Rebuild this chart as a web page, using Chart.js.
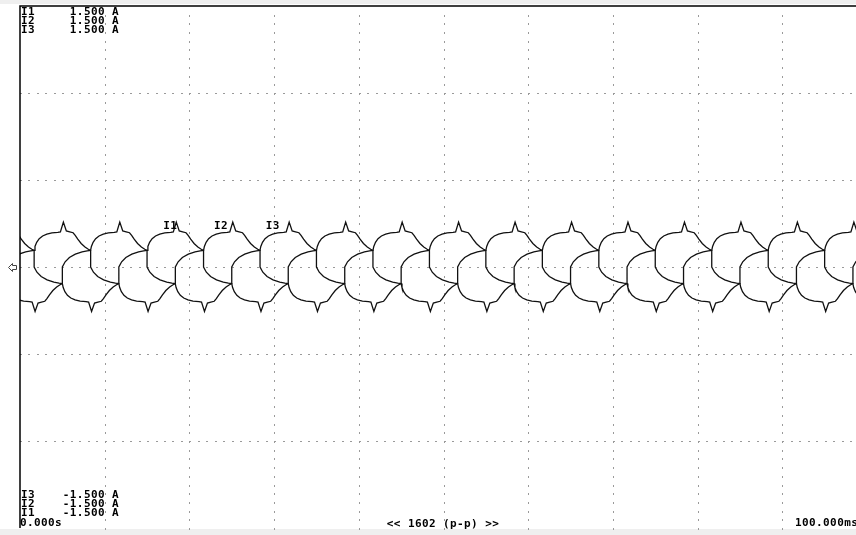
<!DOCTYPE html>
<html>
<head>
<meta charset="utf-8">
<script src="https://cdn.jsdelivr.net/npm/chart.js@4.4.1/dist/chart.umd.min.js"></script>
<style>
  html, body { margin: 0; padding: 0; background: #fff; overflow: hidden; }
  #wrap { width: 880px; height: 535px; }
</style>
</head>
<body>
<div id="wrap"><canvas id="scope" width="880" height="535"></canvas></div>
<script>
// Valori (osciloscop, 3 curenti de faza)
const channelNames = ['I1', 'I2', 'I3'];
const firstRiseMs = [-5.0, 1.67, 8.33];   // trecerea prin +Id/2 pe frontul crescator
const periodMs = 20;
const cycleMs  = [-3.33, -3.0, -2.5, -1.8, -1.0, -0.4, 0.0, 0.1, 0.3, 0.6, 1.0, 1.5, 2.1, 2.8, 3.1, 3.45, 3.8, 4.2, 4.6, 4.85, 5.15, 5.55, 6.0, 6.4, 6.67,
                  6.67, 7.0, 7.5, 8.2, 9.0, 9.6, 10.0, 10.1, 10.3, 10.6, 11.0, 11.5, 12.1, 12.8, 13.1, 13.45, 13.8, 14.2, 14.6, 14.85, 15.15, 15.55, 16.0, 16.4, 16.67];
const cycleAmp = [0.000, 0.030, 0.055, 0.074, 0.087, 0.093, 0.095, 0.118, 0.142, 0.163, 0.178, 0.189, 0.196, 0.199, 0.202, 0.258, 0.207, 0.202, 0.197, 0.182, 0.160, 0.135, 0.115, 0.102, 0.095,
                  0.000, -0.030, -0.055, -0.074, -0.087, -0.093, -0.095, -0.118, -0.142, -0.163, -0.178, -0.189, -0.196, -0.199, -0.202, -0.255, -0.207, -0.202, -0.197, -0.182, -0.160, -0.135, -0.115, -0.102, -0.095];
const labelMs = [16.9, 22.9, 29.0];
const labelAmp = [0.22, 0.22, 0.22];
const rangeTop = ['1.500 A', '1.500 A', '1.500 A'];
const rangeBottom = ['-1.500 A', '-1.500 A', '-1.500 A'];

function buildTrace(start) {
    const pts = [];
    for (let k = -1; k <= 5; k++) {
        for (let i = 0; i < cycleMs.length; i++) {
            pts.push({ x: start + k * periodMs + cycleMs[i], y: cycleAmp[i] });
        }
    }
    return pts;
}

const FONT = "bold 11px 'DejaVu Sans Mono'";

// fundal, grila punctata, rama si textele osciloscopului
const scopeDecor = {
    id: 'scopeDecor',
    beforeDraw(chart) {
        const c = chart.ctx, a = chart.chartArea;
        c.save();
        c.fillStyle = '#fff';
        c.fillRect(0, 0, chart.width, chart.height);
        c.fillStyle = '#efefef';
        c.fillRect(0, 0, chart.width, 4);
        c.fillRect(0, a.bottom + 1, chart.width, chart.height - a.bottom);
        const xs = chart.scales.x, ys = chart.scales.y;
        c.fillStyle = '#9a9a9a';
        for (let t = 10; t < 100; t += 10) {
            const px = Math.round(xs.getPixelForValue(t));
            for (let v = -1.5; v <= 1.5; v += 0.05) {
                c.fillRect(px, Math.round(ys.getPixelForValue(v)), 1, 2);
            }
        }
        for (let v = -1.0; v <= 1.01; v += 0.5) {
            const py = Math.round(ys.getPixelForValue(v));
            for (let t = 0; t <= 100; t += 1) {
                c.fillRect(Math.round(xs.getPixelForValue(t)), py, 2, 1);
            }
        }
        c.restore();
    },
    afterDraw(chart) {
        const c = chart.ctx, a = chart.chartArea;
        c.save();
        c.strokeStyle = '#000';
        c.lineWidth = 1.5;
        c.beginPath();
        c.moveTo(a.left, a.bottom);
        c.lineTo(a.left, a.top);
        c.lineTo(a.right, a.top);
        c.stroke();
        // marcaj de zero in stanga
        const y0 = Math.round(chart.scales.y.getPixelForValue(0)) + 0.5;
        c.strokeStyle = '#444';
        c.lineWidth = 1;
        c.beginPath();
        c.moveTo(8.5, y0);
        c.lineTo(12.5, y0 - 4);
        c.lineTo(12.5, y0 - 2);
        c.lineTo(16.5, y0 - 2);
        c.lineTo(16.5, y0 + 2);
        c.lineTo(12.5, y0 + 2);
        c.lineTo(12.5, y0 + 4);
        c.closePath();
        c.stroke();

        c.fillStyle = '#000';
        c.font = FONT;
        c.letterSpacing = '0.4px';
        c.textBaseline = 'alphabetic';
        for (let i = 0; i < 3; i++) {
            c.textAlign = 'left';
            c.fillText(channelNames[i], 21, 15 + i * 9);
            c.textAlign = 'right';
            c.fillText(rangeTop[i], 119, 15 + i * 9);
        }
        for (let i = 0; i < 3; i++) {
            const n = 2 - i;
            c.textAlign = 'left';
            c.fillText(channelNames[n], 21, 498 + i * 9);
            c.textAlign = 'right';
            c.fillText(rangeBottom[n], 119, 498 + i * 9);
        }
        c.textAlign = 'left';
        c.fillText('0.000s', 20, 526);
        c.fillText('100.000ms', 795, 526);
        c.textAlign = 'center';
        c.fillText('<< 1602 (p-p) >>', 443, 527);
        // etichetele canalelor pe forma de unda
        c.textAlign = 'left';
        for (let i = 0; i < 3; i++) {
            c.fillText(channelNames[i], chart.scales.x.getPixelForValue(labelMs[i]),
                       chart.scales.y.getPixelForValue(labelAmp[i]));
        }
        c.restore();
    }
};

const ctx = document.getElementById('scope').getContext('2d');
const scopeChart = new Chart(ctx, {
    type: 'line',
    data: {
        datasets: channelNames.map((name, i) => ({
            label: name,
            data: buildTrace(firstRiseMs[i]),
            borderColor: '#111',
            borderWidth: 1.3,
            pointRadius: 0,
            tension: 0,
            fill: false
        }))
    },
    options: {
        responsive: false,
        animation: false,
        layout: { padding: { left: 20, top: 6, right: 13, bottom: 7 } },
        plugins: { legend: { display: false }, tooltip: { enabled: false } },
        scales: {
            x: { type: 'linear', min: 0, max: 100, display: false },
            y: { min: -1.5, max: 1.5, display: false }
        }
    },
    plugins: [scopeDecor]
});
</script>
</body>
</html>
